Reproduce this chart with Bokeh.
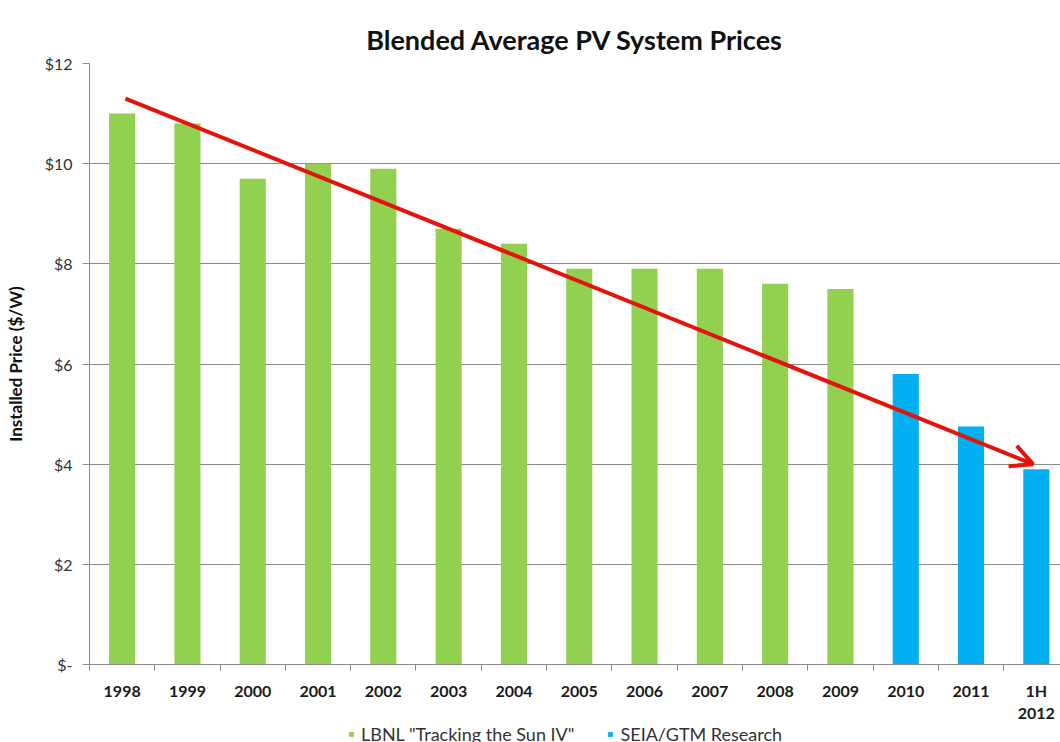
from bokeh.plotting import figure
from bokeh.layouts import column
from bokeh.models import (Range1d, FixedTicker, Arrow, OpenHead, Legend, LegendItem,
                          ColumnDataSource)
from bokeh.embed import file_html
from bokeh.resources import INLINE

# ---- data ----
categories = ["1998", "1999", "2000", "2001", "2002", "2003", "2004", "2005",
              "2006", "2007", "2008", "2009", "2010", "2011", "1H\n2012"]
lbnl_years = categories[:12]
lbnl_prices = [11.0, 10.8, 9.7, 10.0, 9.9, 8.7, 8.4, 7.9, 7.9, 7.9, 7.6, 7.5]
seia_years = categories[12:]
seia_prices = [5.8, 4.75, 3.9]
y_ticks = [0, 2, 4, 6, 8, 10, 12]
y_tick_labels = ["$-", "$2", "$4", "$6", "$8", "$10", "$12"]
series_names = ['LBNL "Tracking the Sun IV"', "SEIA/GTM Research"]
# trend arrow: (category, price) at each end
arrow_start = ("1998", 11.3)
arrow_end = ("1H\n2012", 4.0)

FONT = "Lato"
GREEN = "#92D050"
BLUE = "#00B0F0"
RED = "#E3140C"

pos = {c: i + 0.5 for i, c in enumerate(categories)}

p = figure(width=1060, height=721, output_backend="svg", toolbar_location=None,
           x_range=Range1d(0, 14.87), y_range=Range1d(0, 12),
           min_border_left=89, min_border_right=0, min_border_top=63, min_border_bottom=57)
p.frame_width = 971
p.frame_height = 601

p.title.text = "Blended Average PV System Prices"
p.title.align = "center"
p.title.text_font = FONT
p.title.text_font_size = "27px"
p.title.text_font_style = "bold"
p.title.text_color = "#111111"
p.title.standoff = 16

src_l = ColumnDataSource(dict(x=[pos[c] for c in lbnl_years], top=lbnl_prices))
src_s = ColumnDataSource(dict(x=[pos[c] for c in seia_years], top=seia_prices))
p.vbar(x="x", top="top", width=0.4, source=src_l, fill_color=GREEN, line_color=None)
p.vbar(x="x", top="top", width=0.4, source=src_s, fill_color=BLUE, line_color=None)

p.add_layout(Arrow(end=OpenHead(line_color=RED, line_width=4, size=22),
                   x_start=pos[arrow_start[0]] + 0.05, y_start=arrow_start[1],
                   x_end=pos[arrow_end[0]] - 0.05, y_end=arrow_end[1],
                   line_color=RED, line_width=4))

# axes
p.xgrid.visible = False
p.ygrid.grid_line_color = "#8a8a8a"
p.ygrid.grid_line_width = 1
p.ygrid.ticker = FixedTicker(ticks=y_ticks)
p.outline_line_color = None

ya = p.yaxis[0]
ya.ticker = FixedTicker(ticks=y_ticks)
ya.major_label_overrides = {t: l for t, l in zip(y_ticks, y_tick_labels)}
ya.major_label_text_font = FONT
ya.major_label_text_font_size = "16px"
ya.major_label_text_color = "#333333"
ya.major_tick_out = 7
ya.major_tick_in = 0
ya.minor_tick_line_color = None
ya.axis_line_color = "#8a8a8a"
ya.major_tick_line_color = "#8a8a8a"
ya.axis_label = "Installed Price ($/W)"
ya.axis_label_text_font = FONT
ya.axis_label_text_font_size = "17px"
ya.axis_label_text_font_style = "bold"
ya.axis_label_text_color = "#111111"
ya.axis_label_standoff = 16
ya.major_label_standoff = 10

xa = p.xaxis[0]
centers = [pos[c] for c in categories]
xa.ticker = FixedTicker(ticks=centers, minor_ticks=list(range(0, 16)))
xa.major_label_overrides = {pos[c]: c for c in categories}
xa.major_label_text_font = FONT
xa.major_label_text_font_size = "16px"
xa.major_label_text_font_style = "bold"
xa.major_label_text_color = "#1a1a1a"
xa.major_label_text_line_height = 1.2
xa.major_tick_line_color = None
xa.major_tick_out = 6
xa.minor_tick_line_color = "#8a8a8a"
xa.minor_tick_out = 6
xa.minor_tick_in = 0
xa.axis_line_color = "#8a8a8a"
xa.major_label_standoff = 10

# ---- legend strip below the chart ----
lg = figure(width=1060, height=21, output_backend="svg", toolbar_location=None,
            x_range=Range1d(0, 1), y_range=Range1d(0, 1),
            x_axis_location=None, y_axis_location=None,
            min_border_left=89, min_border_right=0, min_border_top=0, min_border_bottom=0)
lg.grid.visible = False
lg.outline_line_color = None
# legend proxies (placed outside the visible range)
g1 = lg.scatter(x=[-5], y=[-5], marker="square", size=12, fill_color=GREEN, line_color=None)
g2 = lg.scatter(x=[-5], y=[-5], marker="square", size=12, fill_color=BLUE, line_color=None)
legend = Legend(items=[LegendItem(label=series_names[0], renderers=[g1]),
                       LegendItem(label=series_names[1], renderers=[g2])],
                orientation="horizontal", location=(256, 1),
                glyph_width=12, glyph_height=12, label_height=18,
                spacing=30, padding=0, margin=0,
                label_text_font=FONT, label_text_font_size="18px",
                label_text_color="#333333", background_fill_alpha=0,
                border_line_color=None, label_standoff=4)
lg.add_layout(legend, "center")

layout = column(p, lg, spacing=0)
open("out.html", "w").write(file_html(layout, INLINE))
